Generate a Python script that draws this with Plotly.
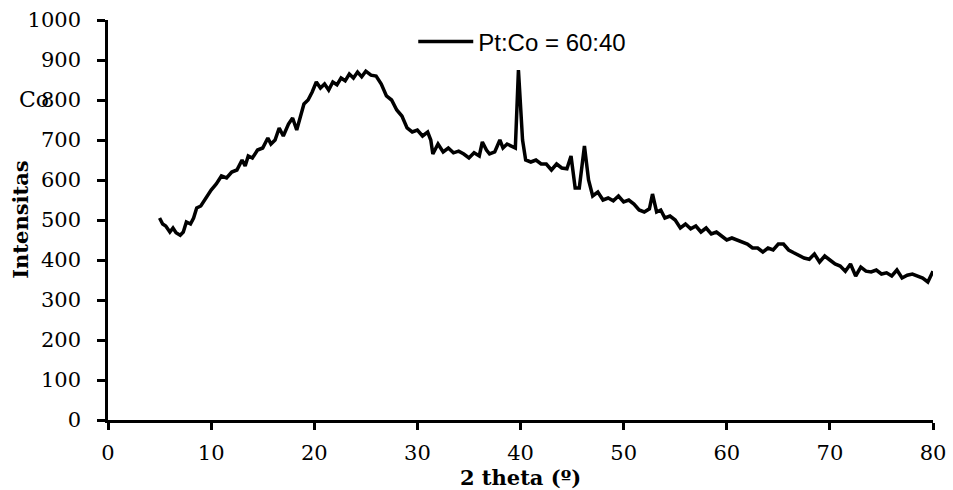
import plotly.graph_objects as go

two_theta = [5, 5.3, 5.6, 6, 6.3, 6.6, 7, 7.3, 7.6, 8, 8.3, 8.6, 9, 9.5, 10, 10.5, 11, 11.5, 12, 12.5,
             13, 13.3, 13.6, 14, 14.5, 15, 15.5, 15.8, 16.2, 16.6, 17, 17.5, 17.9, 18.3, 18.7, 19, 19.4, 19.8,
             20.2, 20.6, 21, 21.4, 21.8, 22.2, 22.6, 23, 23.4, 23.8, 24.2, 24.6, 25, 25.5, 26, 26.5, 27, 27.5,
             28, 28.5, 29, 29.5, 30, 30.5, 31, 31.3, 31.5, 32, 32.5, 33, 33.5, 34, 34.5, 35, 35.5, 36, 36.3,
             36.7, 37, 37.5, 38, 38.3, 38.7, 39.2, 39.5, 39.8, 40.2, 40.5, 41, 41.5, 42, 42.5, 43, 43.5, 44,
             44.5, 44.9, 45.3, 45.7, 46.2, 46.6, 47, 47.5, 48, 48.5, 49, 49.5, 50, 50.5, 51, 51.5, 52, 52.5,
             52.8, 53.2, 53.6, 54, 54.5, 55, 55.5, 56, 56.5, 57, 57.5, 58, 58.5, 59, 59.5, 60, 60.5, 61, 61.5,
             62, 62.5, 63, 63.5, 64, 64.5, 65, 65.5, 66, 66.5, 67, 67.5, 68, 68.5, 69, 69.5, 70, 70.5, 71,
             71.5, 72, 72.5, 73, 73.5, 74, 74.5, 75, 75.5, 76, 76.5, 77, 77.5, 78, 78.5, 79, 79.5, 80]

intensity = [505, 490, 485, 470, 480, 468, 462, 470, 495, 490, 505, 530, 535, 555, 575, 590, 610, 605, 620, 625,
             650, 635, 660, 655, 675, 680, 705, 690, 700, 730, 710, 740, 755, 725, 760, 790, 800, 820,
             845, 830, 840, 825, 845, 838, 855, 848, 865, 855, 870, 858, 872, 862, 860, 840, 810, 800,
             775, 760, 730, 720, 725, 710, 720, 700, 665, 690, 670, 680, 668, 672, 665, 655, 668, 660, 695,
             675, 665, 670, 700, 680, 690, 685, 680, 875, 700, 650, 645, 650, 640, 640, 625, 640, 630,
             628, 660, 580, 580, 685, 600, 560, 570, 550, 555, 548, 560, 545, 550, 540, 525, 520, 528,
             565, 520, 525, 505, 510, 500, 480, 490, 478, 485, 470, 480, 465, 470, 460, 450, 455, 450, 445,
             440, 430, 430, 420, 430, 425, 440, 440, 425, 418, 412, 405, 402, 415, 395, 410, 400, 390, 385,
             372, 390, 360, 382, 372, 370, 375, 365, 368, 360, 375, 355, 362, 365, 360, 355, 345, 372]

x_ticks = [0, 10, 20, 30, 40, 50, 60, 70, 80]
y_ticks = [0, 100, 200, 300, 400, 500, 600, 700, 800, 900, 1000]

serif = "DejaVu Serif"

fig = go.Figure()
fig.add_trace(go.Scatter(x=two_theta, y=intensity, mode="lines", name="Pt:Co = 60:40",
                         line=dict(color="black", width=3.5)))

fig.update_layout(
    width=953, height=490,
    margin=dict(l=108, r=20, t=20, b=70),
    plot_bgcolor="white", paper_bgcolor="white",
    showlegend=True,
    legend=dict(x=0.37, y=0.945, xanchor="left", yanchor="middle", bgcolor="rgba(0,0,0,0)",
                itemwidth=55,
                font=dict(family="Liberation Sans", size=24, color="black")),
    xaxis=dict(range=[0, 80], tickvals=x_ticks, showgrid=False, zeroline=False, automargin=False,
               showline=True, linecolor="black", linewidth=2.5,
               ticks="outside", ticklen=7, tickwidth=2.5, tickcolor="black",
               ticklabelstandoff=5,
               tickfont=dict(family=serif, size=21, color="black"),
               title=dict(text="<b>2 theta (º)</b>", standoff=0,
                          font=dict(family=serif, size=21, color="black"))),
    yaxis=dict(range=[0, 1000], tickvals=y_ticks, showgrid=False, zeroline=False, automargin=False,
               showline=True, linecolor="black", linewidth=2.5,
               ticks="outside", ticklen=8, tickwidth=2.5, tickcolor="black",
               ticklabelstandoff=12,
               tickfont=dict(family=serif, size=21, color="black")),
)

fig.add_annotation(text="<b>Intensitas</b>", xref="paper", yref="paper", x=-0.107, y=0.5,
                   xanchor="center", yanchor="middle", textangle=-90,
                   showarrow=False, font=dict(family=serif, size=21, color="black"))

fig.add_annotation(text="Co", xref="paper", yref="paper", x=-0.09, y=0.8,
                   xanchor="center", yanchor="middle",
                   showarrow=False, font=dict(family=serif, size=22, color="black"))

fig.write_html("out.html", post_script="document.body.style.margin='0';",
               config={"displayModeBar": False})
